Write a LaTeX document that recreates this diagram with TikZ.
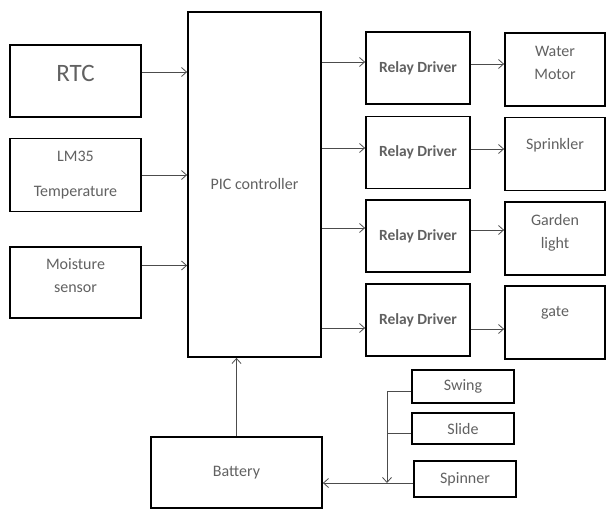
\documentclass[tikz,border=0pt]{standalone}
\usepackage{fontspec}
\setmainfont{Carlito}
\usetikzlibrary{arrows.meta, positioning}

\begin{document}
\begin{tikzpicture}[x=1pt, y=-1pt,
      block/.style={draw, line width=1.8pt, align=center, inner sep=1pt,
                    font=\fontsize{16}{20}\selectfont, text=black!62},
      lift/.style={text depth=#1},
      conn/.style={draw=black!70, line width=0.8pt,
                   -{Straight Barb[length=5pt, width=9pt]}},
      wire/.style={draw=black!70, line width=0.8pt}]

    % frame of the picture
    \useasboundingbox (0,0) rectangle (606,511);

    % --- inputs (left column) ---
    \node[block, minimum width=131pt, minimum height=72pt, lift=16pt,
          font=\fontsize{25}{28}\selectfont] (rtc) at (75.5,81) {RTC};
    \node[block, minimum width=131pt, minimum height=73pt,
          font=\fontsize{16}{35}\selectfont] (lm35) at (75.5,175) {LM35\\Temperature};
    \node[block, minimum width=131pt, minimum height=71pt, lift=14pt,
          font=\fontsize{16}{23}\selectfont] (moist) at (75.5,282.5) {Moisture\\sensor};

    % --- controller ---
    \node[block, minimum width=133pt, minimum height=345pt] (pic) at (254.5,184.5) {PIC controller};

    % --- relay drivers and loads ---
    \foreach \i/\ry/\oy/\name/\dl in {1/68/69.5/{Water\\Motor}/14pt,
                                      2/152.5/154/{Sprinkler}/20pt,
                                      3/236/238.5/{Garden\\light}/14pt,
                                      4/320/322.5/{gate}/22pt} {
      \node[block, minimum width=104pt, minimum height=72pt, font=\fontsize{15.5}{18}\selectfont\bfseries]
          (relay\i) at (418,\ry) {Relay Driver};
      \node[block, minimum width=100pt, minimum height=73pt, lift=\dl,
            font=\fontsize{16}{23}\selectfont] (out\i) at (555,\oy) {\name};
    }

    % --- power side ---
    \node[block, minimum width=171pt, minimum height=71pt] (batt) at (236.5,472.5) {Battery};
    \node[block, minimum width=102pt, minimum height=33pt] (swing) at (463,386.5) {Swing};
    \node[block, minimum width=102pt, minimum height=31pt] (slide) at (463,428.5) {Slide};
    \node[block, minimum width=102pt, minimum height=36pt] (spin) at (465,479) {Spinner};
    \coordinate (jn) at (387,483);

    % sensors -> controller
    \draw[conn] ([yshift=9pt]rtc.east) -- ([yshift=9pt]rtc.east -| pic.west);
    \draw[conn] (lm35.east) -- (lm35.east -| pic.west);
    \draw[conn] ([yshift=17pt]moist.east) -- ([yshift=17pt]moist.east -| pic.west);

    % controller -> relays -> loads
    \foreach \i/\dy/\dz in {1/6/4, 2/4.5/3.5, 3/8/6, 4/-8/-9} {
      \draw[conn] ([yshift=\dy pt]relay\i.west -| pic.east) -- ([yshift=\dy pt]relay\i.west);
      \draw[conn] ([yshift=\dz pt]relay\i.east) -- ([yshift=\dz pt]relay\i.east -| out\i.west);
    }

    % battery -> controller
    \draw[conn] (batt.north) -- (batt.north |- pic.south);

    % rides -> battery
    \draw[wire] ([yshift=-4.5pt]swing.west) -| ([yshift=-4.5pt]swing.west -| jn);
    \draw[conn] ([yshift=-4.5pt]swing.west -| jn) -- (jn);
    \draw[wire] ([yshift=-4.5pt]slide.west) -- ([yshift=-4.5pt]slide.west -| jn);
    \draw[conn] ([yshift=-4pt]spin.west) -- ([yshift=-4pt]spin.west -| batt.east);

\end{tikzpicture}
\end{document}
